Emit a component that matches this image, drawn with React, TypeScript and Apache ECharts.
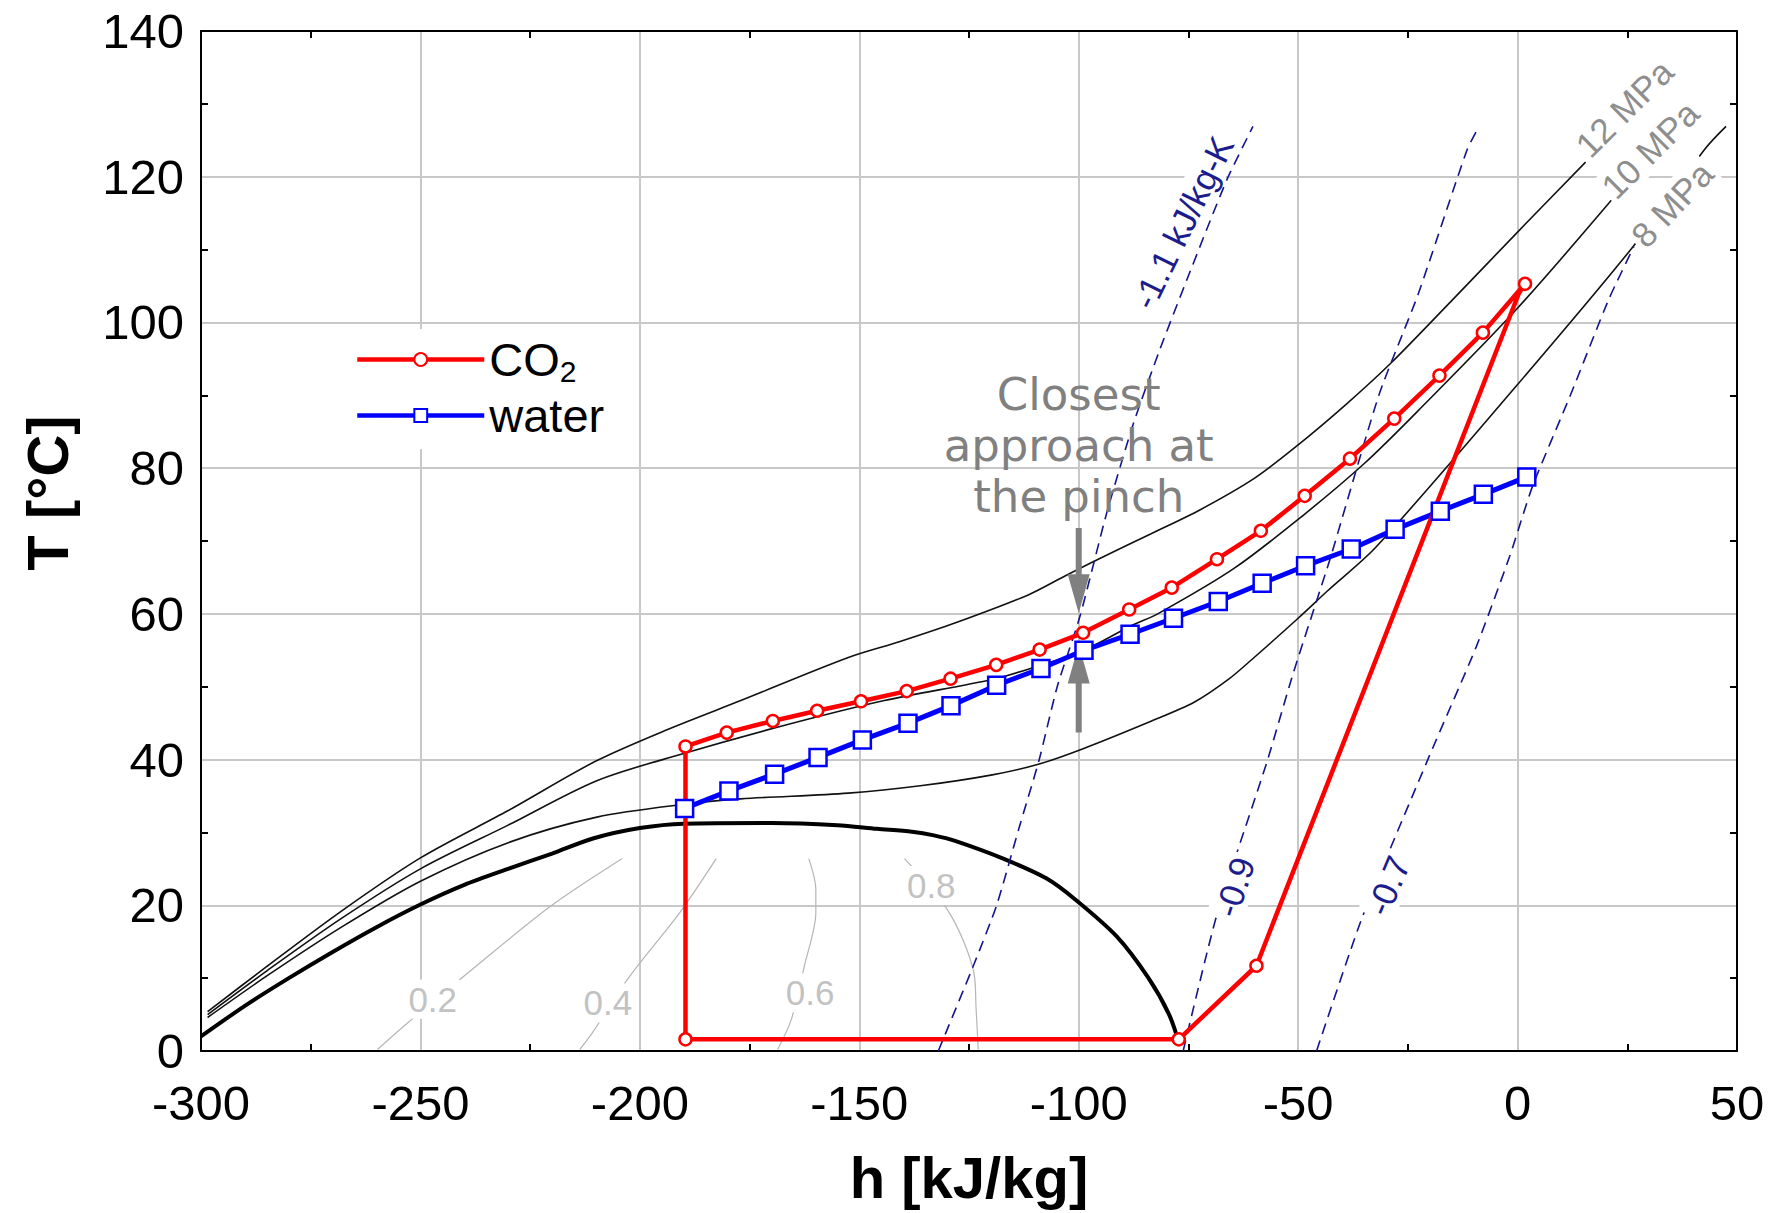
import React, { useEffect, useRef } from 'react';
import * as echarts from 'echarts';

// ---------- data (h [kJ/kg], T [°C]) ----------
const H_RANGE = [-300, 50];
const T_RANGE = [0, 140];
const H_STEP = 50;
const T_STEP = 20;

// CO2 cycle path (closed loop)
const co2Cycle: [number, number][] = [
  [-189.6, 1.6], [-189.6, 41.8], [-180.2, 43.7], [-169.7, 45.3], [-159.6, 46.7],
  [-149.6, 48.0], [-139.2, 49.4], [-129.2, 51.1], [-118.8, 53.0], [-108.9, 55.1],
  [-99.0, 57.4], [-88.5, 60.6], [-78.8, 63.6], [-68.5, 67.5], [-58.5, 71.4],
  [-48.5, 76.2], [-38.2, 81.3], [-28.1, 86.8], [-17.8, 92.7], [-7.9, 98.6],
  [1.7, 105.3], [0.3, 104.0], [-59.5, 11.7], [-77.2, 1.6], [-189.6, 1.6],
];
// indices of path vertices that carry no state marker
const co2PathOnly = [21, 24];

const water: [number, number][] = [
  [-189.8, 33.3], [-179.7, 35.7], [-169.3, 38.0], [-159.4, 40.3], [-149.3, 42.7],
  [-138.9, 45.0], [-129.1, 47.4], [-118.7, 50.2], [-108.6, 52.5], [-98.8, 55.0],
  [-88.3, 57.2], [-78.4, 59.4], [-68.2, 61.7], [-58.2, 64.2], [-48.3, 66.6],
  [-37.9, 68.9], [-27.9, 71.6], [-17.6, 74.1], [-7.8, 76.4], [2.1, 78.8],
];

const saturationDome: [number, number][] = [
  [-300, 2.0], [-290, 6.2], [-280, 10.0], [-270, 13.6], [-260, 17.0], [-250, 20.1],
  [-240, 22.8], [-230, 25.0], [-220, 27.1], [-210.5, 29.2], [-200, 30.6], [-190, 31.2],
  [-170, 31.3], [-155, 31.0], [-146, 30.5], [-138, 30.1], [-133, 29.6], [-128, 28.8],
  [-117.2, 26.4], [-107.4, 23.7], [-100.8, 20.8], [-91.3, 15.7], [-84.2, 10.1],
  [-79.4, 5.0], [-77, 0.8],
];

const isobar8: [number, number][] = [
  [-298.5, 4.6], [-285, 10.3], [-268, 17.0], [-250, 23.3], [-230, 28.6], [-209.8, 32.1],
  [-189.3, 33.9], [-177, 34.6], [-152.5, 35.4], [-136.1, 36.4], [-119.7, 37.9], [-109, 39.4],
  [-99, 41.5], [-83.4, 45.3], [-73.6, 47.9], [-65.9, 51.0], [-60.8, 53.6], [-50, 59.4],
  [-43.4, 63.1], [-32.2, 69.2], [-0.4, 91.2], [26.3, 110.4], [42.7, 123.8], [47.5, 126.9],
];
const isobar10: [number, number][] = [
  [-298.5, 5.0], [-285, 11.0], [-268, 18.2], [-250, 25.0], [-230, 31.0], [-209.8, 37.1],
  [-190.2, 40.8], [-168.9, 44.4], [-144.3, 48.1], [-119.7, 51.0], [-110.5, 52.6], [-99.2, 54.9],
  [-87.6, 58.5], [-82, 60.0], [-64.7, 66.2], [-48.7, 73.6], [-35, 80.6], [-22.8, 87.8],
  [-0.4, 101.7], [21.7, 117.0],
];
const isobar12: [number, number][] = [
  [-298.5, 5.4], [-285, 11.6], [-268, 19.2], [-250, 26.5], [-230, 33.0], [-210, 39.8],
  [-193.4, 44.2], [-177, 48.1], [-152.5, 54.0], [-140.7, 56.2], [-127.9, 58.8], [-111.5, 62.6],
  [-102.8, 65.3], [-95.2, 67.6], [-83.5, 71.0], [-72.3, 74.3], [-60, 78.6], [-50, 83.2],
  [-39, 88.8], [-28.9, 94.4], [-15, 103.0], [0, 112.4], [15.5, 122.0],
];

const isentrope11: [number, number][] = [
  [-132, 0], [-123.8, 12], [-118.7, 20], [-113.7, 30.4], [-109, 40], [-104.9, 50],
  [-99.7, 59.7], [-93.6, 73.9], [-87.5, 86.2], [-81.5, 96.3], [-75, 106.4], [-66.3, 119.5],
  [-60.3, 126.9],
];
const isentrope09: [number, number][] = [
  [-76.2, 0], [-68.6, 18.5], [-57.2, 39.5], [-51.1, 51.9], [-42.8, 67.4], [-31.5, 90.2],
  [-22.7, 103.8], [-11.5, 123.7], [-8.8, 126.9],
];
const isentrope07: [number, number][] = [
  [-45.8, 0], [-35.3, 18.5], [-20.1, 40.5], [-9.4, 55.5], [-1.8, 67.9], [3.4, 77.5],
  [12.1, 90.1], [20.8, 103.2], [26.5, 110.4],
];

const quality02: [number, number][] = [[-259.8, 0.2], [-253.8, 3.4], [-239, 10.8], [-220.3, 19.9], [-204.1, 26.4]];
const quality04: [number, number][] = [[-213.7, 0.2], [-210.6, 2.7], [-202.5, 10.1], [-190.9, 19.0], [-182.6, 26.4]];
const quality06: [number, number][] = [[-168.6, 0.2], [-165.5, 4.3], [-162.5, 11.7], [-159.9, 19.0], [-159.9, 22.2], [-161.5, 26.4]];
const quality08: [number, number][] = [[-122.9, 0.2], [-123.4, 6.0], [-123.9, 10.8], [-129.5, 19.0], [-139.7, 26.4]];

// annotation labels anchored in data space
const labelTexts = ['0.2', '0.4', '0.6', '0.8', '-0.9', '-0.7', '-1.1 kJ/kg-K', '12 MPa', '10 MPa', '8 MPa', 'Closest\napproach at\nthe pinch'];
const labelH = [-247.2, -207.3, -161.2, -133.6, -64.5, -29.5, -76.3, 24.3, 30.2, 35.2, -100];
const labelT = [7.1, 6.6, 8.0, 22.7, 22.5, 22.7, 113.7, 129.4, 123.7, 116.2, 83.1];
const labelAngle = [0, 0, 0, 0, 72, 67, 64, 45, 45, 47, 0];
const labelKind = ['quality', 'quality', 'quality', 'quality', 'entropy', 'entropy', 'entropy', 'pressure', 'pressure', 'pressure', 'note'];

// pinch arrows: [h, T tail, T tip]
const pinchArrows: [number, number, number][] = [[-100, 71.8, 60.1], [-100, 43.7, 55.8]];

// ---------- styles ----------
const FONT = '"Liberation Sans", Arial, sans-serif';
const LABEL_STYLE: Record<string, any> = {
  quality: { fill: '#c2c2c2', fontSize: 35, fontFamily: FONT, backgroundColor: '#fff', padding: [2, 3] },
  entropy: { fill: '#1c1c8c', fontSize: 35, fontFamily: FONT, backgroundColor: '#fff', padding: [1, 4] },
  pressure: { fill: '#8e8e8e', fontSize: 35, fontFamily: FONT, backgroundColor: '#fff', padding: [1, 3] },
  note: { fill: '#808080', fontSize: 45, fontFamily: '"DejaVu Sans", sans-serif', lineHeight: 51 },
};

const thin = (name: string, data: [number, number][], color: string, width: number, type: any = 'solid', smooth = 0.3) => ({
  name,
  type: 'line',
  data,
  symbol: 'none',
  smooth,
  silent: true,
  z: 2,
  lineStyle: { color, width, type },
});

export default function App() {
  const ref = useRef<HTMLDivElement>(null);

  useEffect(() => {
    if (!ref.current) return;
    const chart = echarts.init(ref.current, null, { renderer: 'svg' });

    const axisLine = { show: true, onZero: false, lineStyle: { color: '#000', width: 2 } };
    const minorTick = { show: true, splitNumber: 2, length: 7, lineStyle: { color: '#000', width: 2 } };

    const option: any = {
      animation: false,
      backgroundColor: '#fff',
      textStyle: { fontFamily: FONT },
      grid: { left: 201, top: 31, width: 1536, height: 1020, containLabel: false, outerBoundsMode: 'none' },
      legend: {
        data: ['CO2', 'water'],
        orient: 'vertical',
        left: 351,
        top: 329,
        padding: [4, 4, 10, 4],
        itemWidth: 127,
        itemHeight: 16,
        itemGap: 6,
        backgroundColor: '#fff',
        selectedMode: false,
        lineStyle: { width: 4.5 },
        formatter: (n: string) => (n === 'CO2' ? '{n|CO}{s|2}' : '{n|water}'),
        textStyle: {
          color: '#000',
          fontFamily: FONT,
          fontSize: 47,
          rich: {
            n: { fontSize: 47, lineHeight: 52, fontFamily: FONT, color: '#000' },
            s: { fontSize: 30, lineHeight: 30, padding: [23, 0, 0, 0], fontFamily: FONT, color: '#000' },
          },
        },
      },
      xAxis: [
        {
          type: 'value', min: H_RANGE[0], max: H_RANGE[1], interval: H_STEP, position: 'bottom',
          axisLine, axisTick: { show: false, inside: true }, minorTick,
          axisLabel: { color: '#000', fontSize: 49, fontFamily: FONT, margin: 27, hideOverlap: false },
          splitLine: { show: true, lineStyle: { color: '#c8c8c8', width: 2 } },
          name: 'h [kJ/kg]', nameLocation: 'middle', nameGap: 97,
          nameTextStyle: { color: '#000', fontSize: 58, fontWeight: 'bold', fontFamily: FONT },
        },
        {
          type: 'value', min: H_RANGE[0], max: H_RANGE[1], interval: H_STEP, position: 'top',
          axisLine, axisTick: { show: false, inside: true }, minorTick,
          axisLabel: { show: false }, splitLine: { show: false },
        },
      ],
      yAxis: [
        {
          type: 'value', min: T_RANGE[0], max: T_RANGE[1], interval: T_STEP, position: 'left',
          axisLine, axisTick: { show: false, inside: true }, minorTick,
          axisLabel: { color: '#000', fontSize: 49, fontFamily: FONT, margin: 17, hideOverlap: false },
          splitLine: { show: true, lineStyle: { color: '#c8c8c8', width: 2 } },
        },
        {
          type: 'value', min: T_RANGE[0], max: T_RANGE[1], interval: T_STEP, position: 'right',
          axisLine, axisTick: { show: false, inside: true }, minorTick,
          axisLabel: { show: false }, splitLine: { show: false },
        },
      ],
      graphic: [
        {
          type: 'text', x: 47, y: 493, rotation: Math.PI / 2,
          style: { text: 'T [°C]', fill: '#000', font: `bold 58px ${FONT}`, align: 'center', verticalAlign: 'middle' },
        },
      ],
      series: [
        thin('x=0.2', quality02, '#b5b5b5', 1.2),
        thin('x=0.4', quality04, '#b5b5b5', 1.2),
        thin('x=0.6', quality06, '#b5b5b5', 1.2),
        thin('x=0.8', quality08, '#b5b5b5', 1.2),
        thin('dome', saturationDome, '#000', 4, 'solid', 0.3),
        thin('8 MPa', isobar8, '#111', 1.6),
        thin('10 MPa', isobar10, '#111', 1.6),
        thin('12 MPa', isobar12, '#111', 1.6),
        thin('s=-1.1', isentrope11, '#14148c', 1.6, [11, 7], 0.2),
        thin('s=-0.9', isentrope09, '#14148c', 1.6, [11, 7], 0.2),
        thin('s=-0.7', isentrope07, '#14148c', 1.6, [11, 7], 0.2),
        {
          name: 'labels',
          type: 'custom',
          silent: true,
          z: 3,
          data: labelTexts.map((_, i) => [labelH[i], labelT[i], i]),
          renderItem: (_p: any, api: any) => {
            const i = api.value(2);
            const pt = api.coord([api.value(0), api.value(1)]);
            const st = LABEL_STYLE[labelKind[i]];
            return {
              type: 'text',
              x: pt[0],
              y: pt[1],
              rotation: (labelAngle[i] * Math.PI) / 180,
              style: { ...st, text: labelTexts[i], align: 'center', verticalAlign: 'middle' },
            };
          },
        },
        {
          name: 'arrows',
          type: 'custom',
          silent: true,
          z: 3,
          dimensions: ['h', 't0', 't1'],
          encode: { x: 0, y: [1, 2] },
          data: pinchArrows,
          renderItem: (_p: any, api: any) => {
            const a = api.coord([api.value(0), api.value(1)]);
            const b = api.coord([api.value(0), api.value(2)]);
            const dir = Math.sign(b[1] - a[1]);
            const headLen = 39, headHalf = 11, shaftHalf = 3;
            const baseY = b[1] - dir * headLen;
            const x = a[0];
            return {
              type: 'polygon',
              shape: {
                points: [
                  [x - shaftHalf, a[1]], [x + shaftHalf, a[1]], [x + shaftHalf, baseY],
                  [x + headHalf, baseY], [b[0], b[1]], [x - headHalf, baseY], [x - shaftHalf, baseY],
                ],
              },
              style: { fill: '#808080' },
            };
          },
        },
        {
          name: 'water',
          type: 'line',
          data: water,
          z: 4,
          symbol: 'rect',
          symbolSize: 17,
          showAllSymbol: true,
          lineStyle: { color: '#0000ff', width: 5 },
          itemStyle: { color: '#fff', borderColor: '#0000ff', borderWidth: 2.5 },
        },
        {
          name: 'CO2',
          type: 'line',
          z: 4,
          data: co2Cycle.map((p, i) => (co2PathOnly.includes(i) ? { value: p, symbol: 'none' } : { value: p })),
          symbol: 'circle',
          symbolSize: 12,
          showAllSymbol: true,
          lineStyle: { color: '#ff0000', width: 4.5 },
          itemStyle: { color: '#fff', borderColor: '#ff0000', borderWidth: 2.5 },
        },
      ],
    };

    chart.setOption(option);
    return () => chart.dispose();
  }, []);

  return (
    <div
      ref={ref}
      style={{ position: 'absolute', left: 0, top: 0, width: 1770, height: 1213, background: '#fff' }}
    />
  );
}
